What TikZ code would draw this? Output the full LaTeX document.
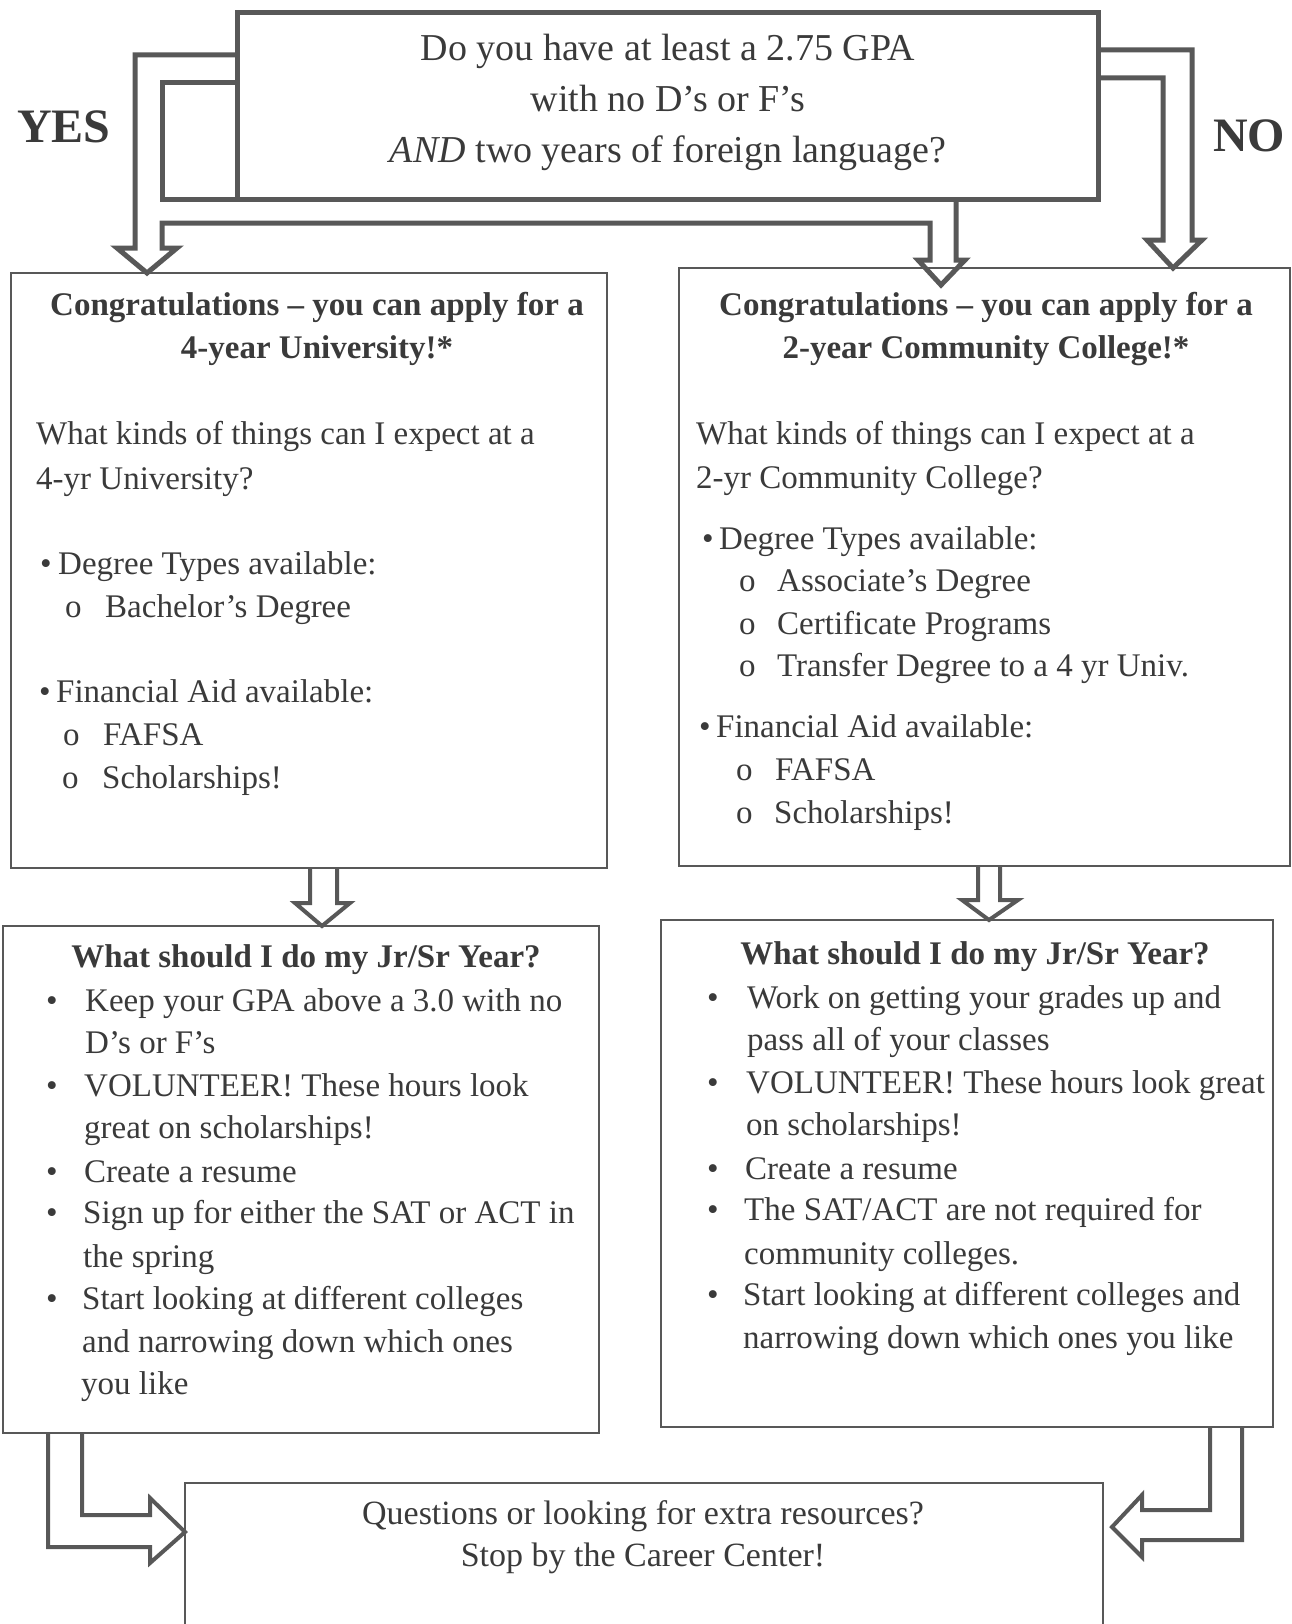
\documentclass[tikz,border=0pt]{standalone}
\usepackage{fontspec}
\setmainfont{Liberation Serif}
\definecolor{c0}{RGB}{88,88,88}
\definecolor{c1}{RGB}{58,58,58}
\tikzset{%
  panel/.style={draw=c0,line width=#1,inner sep=0pt,outer sep=0pt,anchor=north west},
  panel/.default=2.2pt,
  blockarrow/.style={draw=c0,line width=#1,line join=miter},
  blockarrow/.default=4pt,
  txt/.style={text=c1,inner sep=0pt,anchor=base west,font=\fontsize{33}{43}\selectfont},
  hd/.style={txt,anchor=base,font=\fontsize{33}{43}\selectfont\bfseries},
  qtxt/.style={txt,anchor=base,font=\fontsize{38}{51}\selectfont},
  answer/.style={txt,font=\fontsize{48}{50}\selectfont\bfseries}
}
\NewDocumentCommand\tline{m m m m}{\node[txt] (#1) at (#2,#3) {#4};}
\NewDocumentCommand\itemline{m m m m m m}{%
  \node[txt] (#1b) at (#2,#4) {#5};
  \node[txt] (#1) at (#3,#4) {#6};
}

\begin{document}
\begin{tikzpicture}[x=1pt,y=-1pt]
  \useasboundingbox (0,0) rectangle (1291,1624);
  \clip (0,0) rectangle (1291,1624);
  %% Boxes
  \node[panel=5pt,minimum width=861pt,minimum height=187pt] (q) at (237,13) {};
  \node[panel=2.6pt,minimum width=596pt,minimum height=595pt] (uni) at (11,273) {};
  \node[panel=2.6pt,minimum width=611pt,minimum height=598pt] (cc) at (679,268) {};
  \node[panel,minimum width=596pt,minimum height=507pt] (ujr) at (3,926) {};
  \node[panel,minimum width=612pt,minimum height=507pt] (cjr) at (661,920) {};
  \node[panel,minimum width=918pt,minimum height=160pt] (help) at (185,1483) {};
  %
  \node[answer] (yes) at (17,143) {YES};
  \node[answer] (no) at (1213,152) {NO};
  %% Question
  \node[qtxt] (q1) at (668,61) {Do you have at least a 2.75 GPA};
  \node[qtxt] (q2) at (668,112) {with no D’s or F’s};
  \node[qtxt] (q3) at (668,163) {\textit{AND} two years of foreign language?};
  %% Arrows out of the question
  \draw[blockarrow=5pt] (q.west |- 0,55) -- (135,55) -- (135,248) -- (117,248)
    -- (147,0 |- uni.north) -- (177,248) -- (162,248) -- (162,223) -- (930,223)
    -- (930,260) -- (918,260) -- (941,285) -- (965,260) -- (956,260) -- (956,0 |- q.south);
  \draw[blockarrow=5pt] (q.west |- 0,83) -- (162,83) -- (162,0 |- q.south) -- (q.south west);
  \draw[blockarrow=5pt] (q.east |- 0,50) -- (1192,50) -- (1192,240) -- (1202,240)
    -- (1173,0 |- cc.north) -- (1147,240) -- (1163,240) -- (1163,78) -- (q.east |- 0,78);
  %% 4-year University
  \node[hd] (uni1) at (317,315) {Congratulations – you can apply for a};
  \node[hd] (uni2) at (317,358) {4-year University!*};
  \tline{uni3}{36}{444}{What kinds of things can I expect at a}
  \tline{uni4}{36}{489}{4-yr University?}
  \itemline{uni5}{40}{58}{574}{•}{Degree Types available:}
  \itemline{uni6}{65}{105}{617}{o}{Bachelor’s Degree}
  \itemline{uni7}{39}{56}{702}{•}{Financial Aid available:}
  \itemline{uni8}{63}{103}{745}{o}{FAFSA}
  \itemline{uni9}{62}{102}{788}{o}{Scholarships!}
  %% 2-year Community College
  \node[hd] (cc1) at (986,315) {Congratulations – you can apply for a};
  \node[hd] (cc2) at (986,358) {2-year Community College!*};
  \tline{cc3}{696}{444}{What kinds of things can I expect at a}
  \tline{cc4}{696}{488}{2-yr Community College?}
  \itemline{cc5}{702}{719}{549}{•}{Degree Types available:}
  \itemline{cc6}{739}{777}{591}{o}{Associate’s Degree}
  \itemline{cc7}{739}{777}{634}{o}{Certificate Programs}
  \itemline{cc8}{739}{777}{676}{o}{Transfer Degree to a 4 yr Univ.}
  \itemline{cc9}{699}{716}{737}{•}{Financial Aid available:}
  \itemline{cc10}{736}{775}{780}{o}{FAFSA}
  \itemline{cc11}{736}{774}{823}{o}{Scholarships!}
  %% Jr/Sr year, university
  \node[hd] (ujr0) at (306,967) {What should I do my Jr/Sr Year?};
  \itemline{ujr1}{46}{85}{1011}{•}{Keep your GPA above a 3.0 with no}
  \tline{ujr2}{85}{1053}{D’s or F’s}
  \itemline{ujr3}{46}{84}{1096}{•}{VOLUNTEER! These hours look}
  \tline{ujr4}{84}{1138}{great on scholarships!}
  \itemline{ujr5}{46}{84}{1182}{•}{Create a resume}
  \itemline{ujr6}{46}{83}{1223}{•}{Sign up for either the SAT or ACT in}
  \tline{ujr7}{83}{1267}{the spring}
  \itemline{ujr8}{46}{82}{1309}{•}{Start looking at different colleges}
  \tline{ujr9}{82}{1352}{and narrowing down which ones}
  \tline{ujr10}{81}{1394}{you like}
  %% Jr/Sr year, community college
  \node[hd] (cjr0) at (975,964) {What should I do my Jr/Sr Year?};
  \itemline{cjr1}{707}{747}{1008}{•}{Work on getting your grades up and}
  \tline{cjr2}{747}{1050}{pass all of your classes}
  \itemline{cjr3}{707}{746}{1093}{•}{VOLUNTEER! These hours look great}
  \tline{cjr4}{746}{1135}{on scholarships!}
  \itemline{cjr5}{707}{745}{1179}{•}{Create a resume}
  \itemline{cjr6}{707}{744}{1220}{•}{The SAT/ACT are not required for}
  \tline{cjr7}{744}{1264}{community colleges.}
  \itemline{cjr8}{707}{743}{1305}{•}{Start looking at different colleges and}
  \tline{cjr9}{743}{1348}{narrowing down which ones you like}
  %% Down arrows
  \draw[blockarrow] (310,0 |- uni.south) -- (310,903) -- (295,903) -- (322,0 |- ujr.north)
    -- (350,903) -- (337,903) -- (337,0 |- uni.south);
  \draw[blockarrow] (978,0 |- cc.south) -- (978,900) -- (962,900) -- (989,0 |- cjr.north)
    -- (1018,900) -- (1000,900) -- (1000,0 |- cc.south);
  %% Into the Career Center
  \draw[blockarrow] (48,0 |- ujr.south) -- (48,1547) -- (150,1547) -- (150,1563)
    -- (help.west |- 0,1532) -- (150,1498) -- (150,1515) -- (82,1515) -- (82,0 |- ujr.south);
  \draw[blockarrow] (1242,0 |- cjr.south) -- (1242,1540) -- (1142,1540) -- (1142,1557)
    -- (1112,1527) -- (1142,1495) -- (1142,1510) -- (1210,1510) -- (1210,0 |- cjr.south);
  \node[txt,anchor=base,font=\fontsize{34}{43}\selectfont] (help1) at (643,1524) {Questions or looking for extra resources?};
  \node[txt,anchor=base,font=\fontsize{34}{43}\selectfont] (help2) at (643,1566) {Stop by the Career Center!};
\end{tikzpicture}
\end{document}
